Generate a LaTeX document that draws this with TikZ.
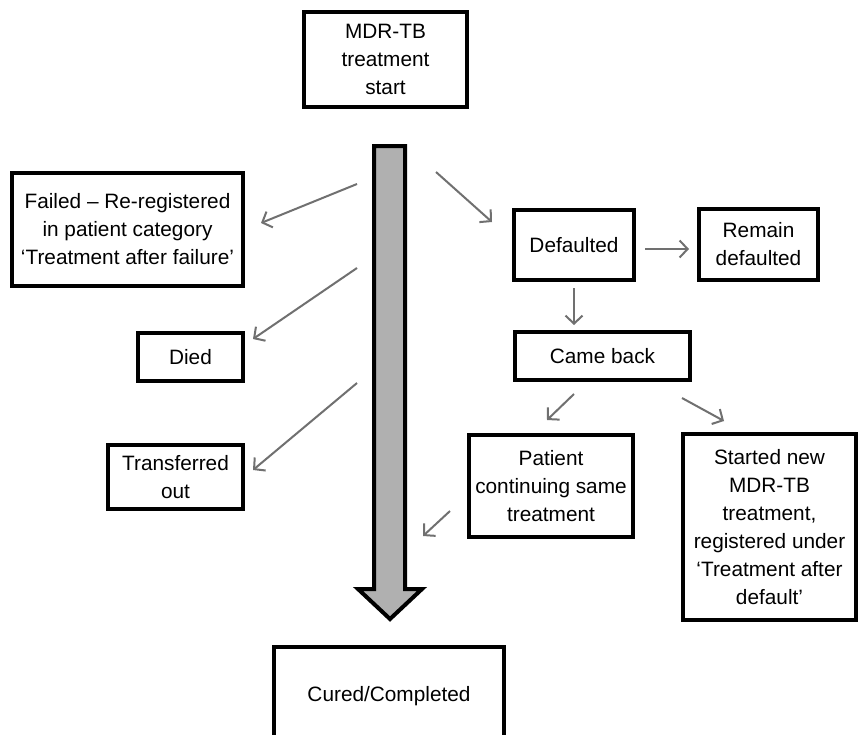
\documentclass[tikz,border=0pt]{standalone}
\usepackage{fontspec}
\setmainfont{Liberation Sans}
\usetikzlibrary{arrows.meta}
\definecolor{arrgray}{HTML}{707070}
\definecolor{shaftgray}{HTML}{B0B0B0}
\begin{document}
\begin{tikzpicture}[x=1pt,y=-1pt,
  box/.style={draw=black,line width=4pt,fill=white,align=center,inner sep=0pt,
    font=\fontsize{20.8}{28}\selectfont},
  conn/.style={draw=arrgray,line width=2pt,
    -{Straight Barb[length=8pt,width=17pt,line width=2pt]}}]
\clip (0,0) rectangle (862,734);
\fill[white] (0,0) rectangle (862,734);
% nodes
\node[box,minimum width=163pt,minimum height=95pt] (start) at (385.5,59.5) {MDR-TB\\treatment\\start};
\node[box,minimum width=231pt,minimum height=113pt] (failed) at (127.5,229.5) {Failed – Re-registered\\in patient category\\‘Treatment after failure’};
\node[box,minimum width=105pt,minimum height=48pt] (died) at (190.5,357) {Died};
\node[box,minimum width=135pt,minimum height=64pt] (trans) at (175.5,477) {Transferred\\out};
\node[box,minimum width=120pt,minimum height=70pt] (def) at (574,245) {Defaulted};
\node[box,minimum width=119pt,minimum height=71pt] (remain) at (758.5,244.5) {Remain\\defaulted};
\node[box,minimum width=175pt,minimum height=48pt] (came) at (602.5,356) {Came back};
\node[box,minimum width=164pt,minimum height=102pt] (patient) at (551,486) {Patient\\continuing same\\treatment};
\node[box,minimum width=173pt,minimum height=186pt] (started) at (769.5,527) {Started new\\MDR-TB\\treatment,\\registered under\\‘Treatment after\\default’};
\node[box,minimum width=230pt,minimum height=100pt] (cured) at (389,697) {\raisebox{7pt}{Cured/Completed}};
% main shaft arrow
\draw[line width=4pt,fill=shaftgray,line join=miter]
  (374,146) -- (405,146) -- (405,589) -- (422,589) -- (390,619) -- (358,589) -- (374,589) -- cycle;
% connector end points
\coordinate (f1) at (357,184); \coordinate (f2) at (261,223);
\coordinate (d1) at (357,268); \coordinate (d2) at (253,339);
\coordinate (t1) at (357,383); \coordinate (t2) at (253,470);
\coordinate (g1) at (436,172); \coordinate (g2) at (492,222);
\coordinate (r1) at (645,249); \coordinate (r2) at (689,249);
\coordinate (c1) at (574,288); \coordinate (c2) at (574,325);
\coordinate (p1) at (574,394); \coordinate (p2) at (547,420);
\coordinate (s1) at (682,398); \coordinate (s2) at (724,421);
\coordinate (b1) at (450,511); \coordinate (b2) at (423,536);
% connectors
\draw[conn] (f1) -- (f2);
\draw[conn] (d1) -- (d2);
\draw[conn] (t1) -- (t2);
\draw[conn] (g1) -- (g2);
\draw[conn] (r1) -- (r2);
\draw[conn] (c1) -- (c2);
\draw[conn] (p1) -- (p2);
\draw[conn] (s1) -- (s2);
\draw[conn] (b1) -- (b2);
\end{tikzpicture}
\end{document}
